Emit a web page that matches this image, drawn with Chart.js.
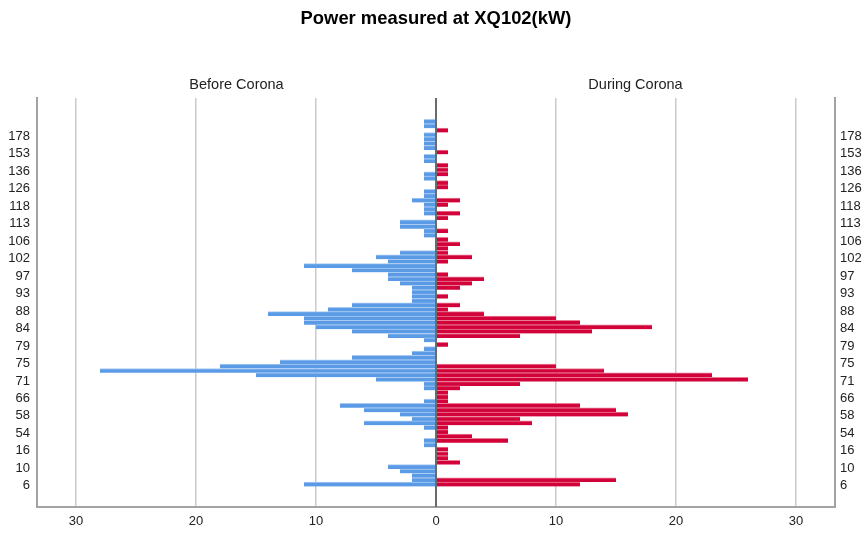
<!doctype html>
<html lang="en">

<head>
    <meta charset="utf-8">
    <title>Power measured at XQ102(kW)</title>
    <style>
        body { margin: 0; background: #fff; }
        #wrap { width: 865px; height: 533px; }
    </style>
</head>

<body>
    <div id="wrap">
        <canvas id="myChart" width="865" height="533"></canvas>
    </div>

    <script src="https://cdn.jsdelivr.net/npm/chart.js@4.4.0/dist/chart.umd.min.js"></script>
    <script>
        // one row per distinct reading, highest reading on top
        const tickLabels = ['178', '153', '136', '126', '118', '113', '106', '102', '97', '93',
            '88', '84', '79', '75', '71', '66', '58', '54', '16', '10', '6'];
        // labelled rows: every fourth row, starting with the fourth
        const tickRows = tickLabels.map((_, i) => 3 + 4 * i);

        const panelNames = ['Before Corona', 'During Corona'];

        // counts per row, top to bottom
        const beforeCorona = [
            1, 1, 0, 1, 1, 1, 1, 0, 1, 1,
            0, 0, 1, 1, 0, 0, 1, 1, 2, 1,
            1, 1, 0, 3, 3, 1, 1, 0, 0, 0,
            3, 5, 4, 11, 7, 4, 4, 3, 2, 2,
            2, 2, 7, 9, 14, 11, 11, 10, 7, 4,
            1, 0, 1, 2, 7, 13, 18, 28, 15, 5,
            1, 1, 0, 0, 1, 8, 6, 3, 2, 6,
            1, 0, 0, 1, 1, 0, 0, 0, 0, 4,
            3, 2, 2, 11
        ];
        const duringCorona = [
            0, 0, 1, 0, 0, 0, 0, 1, 0, 0,
            1, 1, 1, 0, 1, 1, 0, 0, 2, 1,
            0, 2, 1, 0, 0, 1, 0, 1, 2, 1,
            1, 3, 1, 0, 0, 1, 4, 3, 2, 0,
            1, 0, 2, 1, 4, 10, 12, 18, 13, 7,
            0, 1, 0, 0, 0, 0, 10, 14, 23, 26,
            7, 2, 1, 1, 1, 12, 15, 16, 7, 8,
            1, 1, 3, 6, 0, 1, 1, 1, 2, 0,
            0, 0, 15, 12
        ];

        const fontFamily = '"Liberation Sans", Arial, sans-serif';

        // dark line at zero, drawn over the bars
        const zeroLine = {
            id: 'zeroLine',
            afterDatasetsDraw(chart) {
                const { ctx, chartArea, scales: { x } } = chart;
                const px = x.getPixelForValue(0);
                ctx.save();
                ctx.strokeStyle = '#6b6b6b';
                ctx.lineWidth = 2;
                ctx.beginPath();
                ctx.moveTo(px, chartArea.top);
                ctx.lineTo(px, chartArea.bottom);
                ctx.stroke();
                ctx.restore();
            }
        };

        // a heading over each half
        const panelTitles = {
            id: 'panelTitles',
            afterDraw(chart) {
                const { ctx, chartArea, scales: { x } } = chart;
                const mid = x.getPixelForValue(0);
                ctx.save();
                ctx.font = '14.5px ' + fontFamily;
                ctx.fillStyle = '#222';
                ctx.textAlign = 'center';
                ctx.textBaseline = 'middle';
                ctx.fillText(panelNames[0], (chartArea.left + mid) / 2, chartArea.top - 13);
                ctx.fillText(panelNames[1], (mid + chartArea.right) / 2, chartArea.top - 13);
                ctx.restore();
            }
        };

        function rowAxis(position, width) {
            return {
                type: 'linear',
                position: position,
                reverse: true,
                stacked: true,
                offset: false,
                min: -5.4,
                max: 88.2,
                // labels sit a touch below the middle of their row
                afterBuildTicks: axis => { axis.ticks = tickRows.map(v => ({ value: v + 0.35 })); },
                afterFit: axis => { axis.width = width; },
                ticks: {
                    autoSkip: false,
                    padding: position === 'left' ? 7 : 5,
                    color: '#222',
                    font: { family: fontFamily, size: 13 },
                    callback: (v, i) => tickLabels[i]
                },
                grid: { display: false, drawTicks: false, offset: false },
                border: { display: true, color: '#a3a3a3', width: 2 }
            };
        }

        const barStyle = {
            borderWidth: { top: 1, bottom: 0, left: 0, right: 0 },
            borderSkipped: false,
            categoryPercentage: 1,
            barPercentage: 1
        };

        const data = {
            datasets: [
                Object.assign({
                    label: panelNames[0],
                    data: beforeCorona.map((v, i) => ({ x: -v, y: i })),
                    backgroundColor: '#5b9be6',
                    borderColor: '#a9cbf3'
                }, barStyle),
                Object.assign({
                    label: panelNames[1],
                    data: duringCorona.map((v, i) => ({ x: v, y: i })),
                    backgroundColor: '#d2033a',
                    borderColor: '#ec7a93'
                }, barStyle)
            ]
        };

        const config = {
            type: 'bar',
            data: data,
            options: {
                indexAxis: 'y',
                responsive: false,
                animation: false,
                events: [],
                layout: { padding: 0 },
                plugins: {
                    legend: { display: false },
                    tooltip: { enabled: false },
                    title: {
                        display: true,
                        fullSize: false,
                        text: 'Power measured at XQ102(kW)',
                        color: '#000',
                        font: { family: fontFamily, size: 18.4, weight: 'bold' },
                        padding: { top: 8, bottom: 67.9 }
                    }
                },
                scales: {
                    x: {
                        type: 'linear',
                        stacked: true,
                        min: -33.25,
                        max: 33.25,
                        afterFit: axis => { axis.height = 26; },
                        ticks: {
                            stepSize: 10,
                            includeBounds: false,
                            padding: 7,
                            color: '#222',
                            font: { family: fontFamily, size: 13 },
                            callback: v => Math.abs(v)
                        },
                        grid: {
                            drawTicks: false,
                            color: c => c.tick && c.tick.value === 0 ? 'rgba(0,0,0,0)' : '#cacaca',
                            lineWidth: 1.5
                        },
                        border: { color: '#a3a3a3', width: 2 }
                    },
                    y: rowAxis('left', 37),
                    y2: rowAxis('right', 30)
                }
            },
            plugins: [zeroLine, panelTitles]
        };

        new Chart(document.getElementById('myChart'), config);
    </script>
</body>

</html>
